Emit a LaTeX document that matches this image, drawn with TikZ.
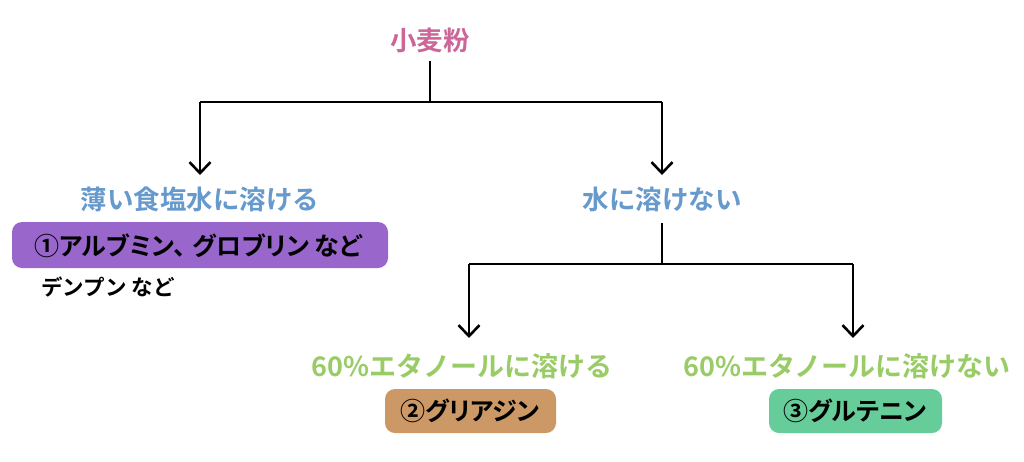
\documentclass[tikz,border=0pt]{standalone}
\usepackage{fontspec}
\setmainfont{Noto Sans CJK JP}[BoldFont={* Bold}]
\newfontfamily\jpb{Noto Sans CJK JP Bold}
\newfontfamily\jpp{Noto Sans CJK JP Bold}[RawFeature=+palt]
\usetikzlibrary{arrows.meta}
\definecolor{cpink}{HTML}{CC6699}
\definecolor{cblue}{HTML}{6699CC}
\definecolor{cgreen}{HTML}{99CC66}
\definecolor{cpurple}{HTML}{9966CC}
\definecolor{cbrown}{HTML}{CC9966}
\definecolor{cteal}{HTML}{66CC99}
\tikzset{
  head/.style={inner sep=0pt, font=\jpb\fontsize{26.5}{30}\selectfont},
  ehead/.style={inner sep=0pt, font=\jpb\fontsize{27}{30}\selectfont},
  pill/.style={rounded corners=10pt, inner sep=0pt},
  pilltext/.style={inner sep=0pt, font=\jpp\fontsize{25}{28}\selectfont, text=black},
  conn/.style={line width=2.6pt, black},
  arr/.style={conn, -{Straight Barb[length=11pt,width=21pt,line width=2.6pt]}},
}
\begin{document}
\begin{tikzpicture}[x=1pt,y=-1pt]
\useasboundingbox (0,0) rectangle (1024,461);
% headings
\node[head, text=cpink] (flour) at (430,40) {小麦粉};
\node[head, text=cblue] (salt) at (200,199) {薄い食塩水に溶ける};
\node[head, text=cblue] (insol) at (662,199) {水に溶けない};
\node[ehead, text=cgreen] (eth) at (462,366) {60\%エタノールに溶ける};
\node[ehead, text=cgreen] (noeth) at (847,366) {60\%エタノールに溶けない};
% pills
\fill[pill, cpurple] (12,222) rectangle (388,268);
\node[pilltext] (alb) at (198,246) {①アルブミン、\hspace{7pt}グロブリン など};
\fill[pill, cbrown] (385,389) rectangle (556,433);
\node[pilltext] (gli) at (470,411) {②グリアジン};
\fill[pill, cteal] (769,389) rectangle (942,433);
\node[pilltext] (glu) at (855,411) {③グルテニン};
\node[inner sep=0pt, font=\jpb\fontsize{21.5}{25}\selectfont] (starch) at (108,287) {デンプン など};
% connectors
\coordinate (j1) at (430,102);
\coordinate (j1l) at (200,102);
\coordinate (j1r) at (662,102);
\draw[conn] (430,61) -- (j1);
\draw[conn] (j1l) -- (j1r);
\draw[arr] (j1l) -- (200,175);
\draw[arr] (j1r) -- (662,175);
\coordinate (j2) at (662,264);
\coordinate (j2l) at (469,264);
\coordinate (j2r) at (853,264);
\draw[conn] (662,223) -- (j2);
\draw[conn] (j2l) -- (j2r);
\draw[arr] (j2l) -- (469,338);
\draw[arr] (j2r) -- (853,338);
\end{tikzpicture}
\end{document}
